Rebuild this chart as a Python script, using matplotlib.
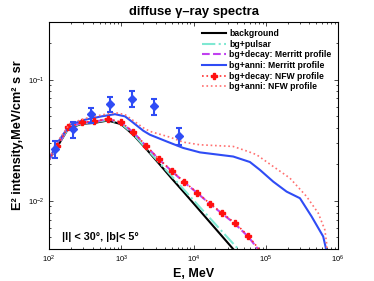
import matplotlib
matplotlib.use('Agg')
import matplotlib.pyplot as plt
import numpy as np

plt.rcParams['font.family'] = ['Liberation Sans', 'DejaVu Sans']
plt.rcParams['mathtext.fontset'] = 'custom'
plt.rcParams['mathtext.rm'] = 'Liberation Sans'
plt.rcParams['mathtext.it'] = 'Liberation Sans:italic'
plt.rcParams['mathtext.bf'] = 'Liberation Sans:bold'

# energy grid (MeV) for background / pulsar / decay curves
e_grid = [100, 130, 185, 283, 423, 650, 990, 1470, 2200, 3320, 4980, 7430,
          11250, 16870, 25120, 37410, 57150, 86000]
background = [0.0218, 0.0279, 0.0395, 0.0432, 0.0440, 0.0460, 0.0430, 0.0350,
              0.0269, 0.0203, 0.0153, 0.01167, 0.00878, 0.00664, 0.00505,
              0.00384, 0.00288, 0.00214]
pulsar = [0.0218, 0.0281, 0.0398, 0.0436, 0.0445, 0.0465, 0.0435, 0.0355,
          0.0272, 0.0208, 0.01596, 0.01228, 0.00935, 0.00718, 0.00553,
          0.00427, 0.00324, 0.00245]
decay_merritt = [0.0218, 0.0284, 0.0402, 0.0442, 0.0450, 0.0473, 0.0443, 0.0368,
                 0.0284, 0.0220, 0.0176, 0.0142, 0.0116, 0.00940, 0.00780,
                 0.00645, 0.00505, 0.00370]
decay_nfw = [0.0218, 0.0286, 0.0404, 0.0444, 0.0452, 0.0476, 0.0446, 0.0370,
             0.0285, 0.0221, 0.0177, 0.0143, 0.0117, 0.00945, 0.00788,
             0.00655, 0.00514, 0.00379]

# annihilation curves
e_anni_m = [100, 135, 195, 315, 536, 818, 1125, 1393, 2014, 2495, 4246, 7214,
            12250, 35400, 60260, 82800, 126500, 194000, 296500, 429700,
            622000, 678000, 690000]
anni_merritt = [0.0222, 0.0309, 0.0425, 0.0467, 0.0498, 0.0519, 0.0498, 0.0452,
                0.0379, 0.0351, 0.0309, 0.0273, 0.0251, 0.0232, 0.0209, 0.0180,
                0.0144, 0.0119, 0.0105, 0.00742, 0.00507, 0.00406, 0.0030]
e_anni_n = [100, 135, 195, 315, 536, 818, 1125, 1393, 2014, 2495, 4721, 7214,
            12250, 35400, 57150, 74600, 126500, 215000, 366000, 531000,
            656000, 693000, 710000]
anni_nfw = [0.0225, 0.0315, 0.0435, 0.0478, 0.0512, 0.0535, 0.0515, 0.0470,
            0.0401, 0.0374, 0.0335, 0.0305, 0.0290, 0.0281, 0.0255, 0.0240,
            0.0192, 0.0154, 0.01086, 0.00791, 0.00575, 0.00447, 0.0030]

# EGRET data points
e_data = [122, 212, 387, 707, 1414, 2828, 6325]
i_data = [0.0266, 0.0389, 0.0525, 0.0627, 0.0697, 0.0601, 0.0341]
i_lo = [0.0226, 0.0330, 0.0441, 0.0539, 0.0594, 0.0512, 0.0290]
i_hi = [0.0313, 0.0444, 0.0587, 0.0725, 0.0801, 0.0698, 0.0399]

blue = '#2f4cf5'

fig = plt.figure(figsize=(3.74, 2.81), dpi=100)
ax = fig.add_axes([0.131, 0.114, 0.773, 0.808])

ax.plot(e_grid, background, color='black', lw=1.5, label='background')
ax.plot(e_grid, pulsar, color='#7fe8d2', lw=1.5, ls='-.', label='bg+pulsar')
ax.plot(e_grid, decay_merritt, color='#c040f0', lw=1.5, ls='--',
        label='bg+decay: Merritt profile')
ax.plot(e_anni_m, anni_merritt, color=blue, lw=1.5,
        label='bg+anni: Merritt profile')
ax.plot(e_grid, decay_nfw, color='#ff3030', lw=1.2, ls=':', marker='P',
        ms=5, mec='#ff1010', mfc='#ff1010', markevery=slice(1, 17),
        label='bg+decay: NFW profile')
ax.plot(e_anni_n, anni_nfw, color='#ff7070', lw=1.2, ls=':',
        label='bg+anni: NFW profile')

yerr = [np.array(i_data) - np.array(i_lo), np.array(i_hi) - np.array(i_data)]
ax.errorbar(e_data, i_data, yerr=yerr, fmt='D', color=blue, ms=4.5,
            elinewidth=1.5, capsize=2.5, capthick=1.5)

ax.set_xscale('log')
ax.set_yscale('log')
ax.set_xlim(100, 1e6)
ax.set_ylim(0.004, 0.3)
ax.tick_params(which='both', direction='in', top=True, right=True,
               labelsize=5.5, width=0.5)
ax.tick_params(which='major', length=3)
ax.tick_params(which='minor', length=1.5)
for s in ax.spines.values():
    s.set_linewidth(0.8)

ax.set_title('diffuse γ–ray spectra', fontsize=9.4, fontweight='bold', pad=5)
ax.set_xlabel('E, MeV', fontsize=9, fontweight='bold', labelpad=2)
ax.set_ylabel('E² intensity,MeV/cm² s sr', fontsize=9.2, fontweight='bold',
              labelpad=3)
ax.text(0.045, 0.04, '|l| < 30°, |b|< 5°', transform=ax.transAxes,
        fontsize=7.8, fontweight='bold')

ax.legend(loc='upper right', frameon=False,
          prop={'weight': 'bold', 'size': 6.2}, handlelength=2.8,
          labelspacing=0.2, borderaxespad=0.4, handletextpad=0.3)

fig.savefig('out.png', dpi=100)
